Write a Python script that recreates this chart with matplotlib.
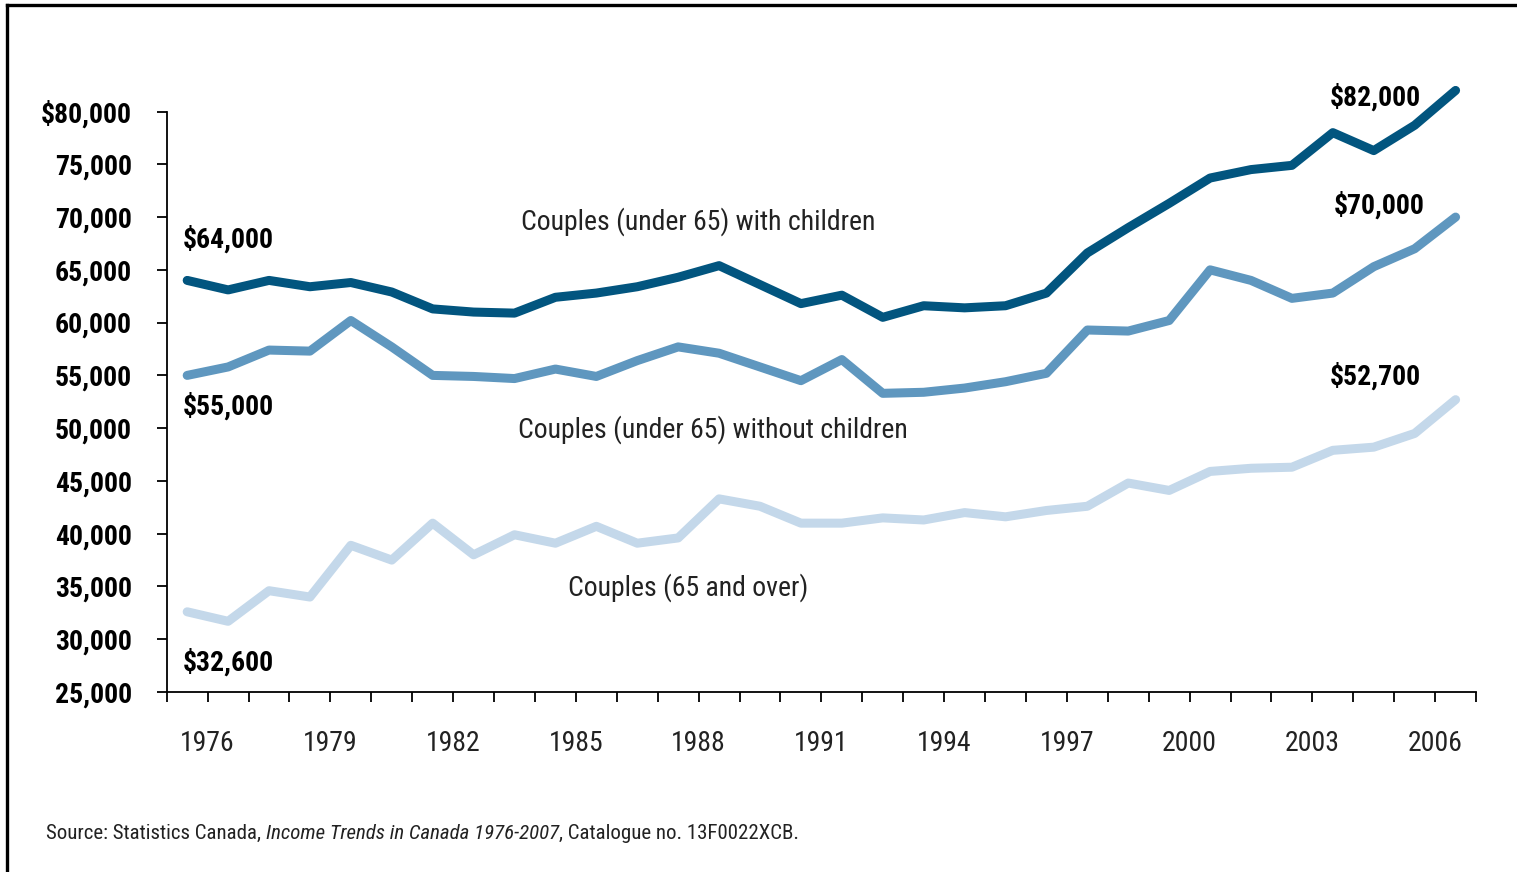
import numpy as np
import matplotlib
matplotlib.use("Agg")
import matplotlib.pyplot as plt
from matplotlib.lines import Line2D
from matplotlib import font_manager

# pick a condensed face if one is installed
installed = {f.name for f in font_manager.fontManager.ttflist}
families = [f for f in ['Roboto Condensed', 'Liberation Sans Narrow', 'Open Sans Condensed']
            if f in installed] + ['DejaVu Sans']
plt.rcParams['font.family'] = families
plt.rcParams['font.stretch'] = 'condensed'

# data (median income, constant dollars)
years = list(range(1976, 2008))
with_children = [64000, 63100, 64000, 63400, 63800, 62900, 61300, 61000,
                 60900, 62400, 62800, 63400, 64300, 65400, 63600, 61800,
                 62600, 60500, 61600, 61400, 61600, 62800, 66600, 69000,
                 71300, 73700, 74500, 74900, 78000, 76300, 78700, 82000]
without_children = [55000, 55800, 57400, 57300, 60200, 57700, 55000, 54900,
                    54700, 55600, 54900, 56400, 57700, 57100, 55800, 54500,
                    56500, 53300, 53400, 53800, 54400, 55200, 59300, 59200,
                    60200, 65000, 64000, 62300, 62800, 65300, 67000, 70000]
over_65 = [32600, 31700, 34600, 34000, 38900, 37500, 41000, 38000,
           39900, 39100, 40700, 39100, 39600, 43300, 42600, 41000,
           41000, 41500, 41300, 42000, 41600, 42200, 42600, 44800,
           44100, 45900, 46200, 46300, 47900, 48200, 49500, 52700]

series_names = ["Couples (under 65) with children",
                "Couples (under 65) without children",
                "Couples (65 and over)"]
series_colors = ["#02557f", "#5f97bf", "#c4d8ea"]

tick_years = [1976, 1979, 1982, 1985, 1988, 1991, 1994, 1997, 2000, 2003, 2006]
y_ticks = list(range(25000, 80001, 5000))

fig = plt.figure(figsize=(15.17, 8.72), dpi=100)
ax = fig.add_axes([0.1099, 0.2064, 0.8631, 0.7020])

for vals, color in zip([with_children, without_children, over_65], series_colors):
    ax.plot(years, vals, color=color, lw=6.5,
            solid_joinstyle='round', solid_capstyle='round')

ax.set_xlim(1975.5, 2007.5)
ax.set_ylim(25000, 83000)

# axes look
for side in ['top', 'right']:
    ax.spines[side].set_visible(False)
ax.spines['left'].set_bounds(25000, 80000)
ax.spines['left'].set_linewidth(1.3)
ax.spines['bottom'].set_linewidth(1.3)

ax.set_yticks(y_ticks)
ylabels = [f"{v:,}" for v in y_ticks]
ylabels[-1] = "$" + ylabels[-1]
ax.set_yticklabels(ylabels, fontsize=20, fontweight='bold')
ax.tick_params(axis='y', length=7, width=1.3, pad=18)

boundaries = np.arange(1975.5, 2008, 1.0)
ax.set_xticks(boundaries)
xlabels = [str(int(b - 0.5)) if int(b - 0.5) in tick_years else '' for b in boundaries]
ax.set_xticklabels(xlabels, fontsize=20, color='#222222')
ax.tick_params(axis='x', length=7, width=1.3, pad=20)

# value labels at the ends
bold = dict(fontsize=20, fontweight='bold', va='center')
ax.text(1975.9, 67900, "$64,000", ha='left', **bold)
ax.text(1975.9, 52100, "$55,000", ha='left', **bold)
ax.text(1975.9, 27800, "$32,600", ha='left', **bold)
ax.text(2006.15, 81300, "$82,000", ha='right', **bold)
ax.text(2006.25, 71100, "$70,000", ha='right', **bold)
ax.text(2006.15, 54900, "$52,700", ha='right', **bold)

# series names
ax.text(1988.48, 69600, series_names[0], ha='center', va='center', fontsize=20, color='#222222')
ax.text(1988.84, 49900, series_names[1], ha='center', va='center', fontsize=20, color='#222222')
ax.text(1988.24, 34850, series_names[2], ha='center', va='center', fontsize=20, color='#222222')

# source line, mixed italic
t1 = fig.text(0.0303, 0.0447, "Source: Statistics Canada, ", fontsize=15,
              va='center', ha='left', color='#222222')
t2 = ax.annotate("Income Trends in Canada 1976-2007", xy=(1, 0), xycoords=t1,
                 va='bottom', ha='left', fontsize=15, style='italic',
                 color='#222222', annotation_clip=False)
ax.annotate(", Catalogue no. 13F0022XCB.", xy=(1, 0), xycoords=t2,
            va='bottom', ha='left', fontsize=15, color='#222222',
            annotation_clip=False)

# frame around the figure (top and left visible)
fig.add_artist(Line2D([0.0045, 1.0], [0.9937, 0.9937], color='black', lw=2.4,
                      transform=fig.transFigure))
fig.add_artist(Line2D([0.0045, 0.0045], [0.0, 0.9937], color='black', lw=2.4,
                      transform=fig.transFigure))

fig.savefig("out.png", dpi=100, facecolor='white')
